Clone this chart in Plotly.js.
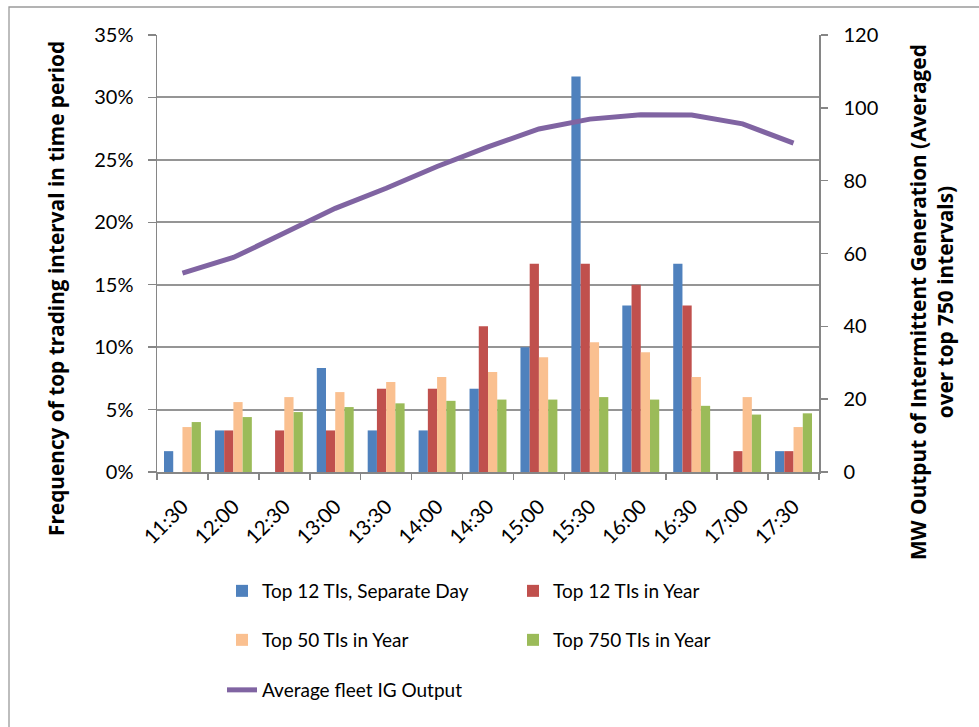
<!DOCTYPE html>
<html>
<head>
<meta charset="utf-8">
<script src="https://cdn.plot.ly/plotly-3.0.1.min.js"></script>
<style>html,body{margin:0;padding:0;background:#fff;}#chart{width:979px;height:727px;}</style>
</head>
<body>
<div id="chart"></div>
<script>
var categories = ["11:30","12:00","12:30","13:00","13:30","14:00","14:30","15:00","15:30","16:00","16:30","17:00","17:30"];
var top12Separate = [0.0167,0.0333,0,0.0833,0.0333,0.0333,0.0667,0.10,0.3167,0.1333,0.1667,0,0.0167];
var top12Year = [0,0.0333,0.0333,0.0333,0.0667,0.0667,0.1167,0.1667,0.1667,0.15,0.1333,0.0167,0.0167];
var top50Year = [0.036,0.056,0.060,0.064,0.072,0.076,0.080,0.092,0.104,0.096,0.076,0.060,0.036];
var top750Year = [0.040,0.044,0.048,0.052,0.055,0.057,0.058,0.058,0.060,0.058,0.053,0.046,0.047];
var fleetOutput = [54.6,58.9,65.6,72.4,77.9,83.9,89.3,94.2,96.9,98.1,98.0,95.6,90.3];
var seriesNames = ["Top 12 TIs, Separate Day","Top 12 TIs in Year","Top 50 TIs in Year","Top 750 TIs in Year","Average fleet IG Output"];
var colors = ["#4F81BD","#C0504D","#FAC090","#9BBB59","#8064A2"];

var FONT = "Lato, 'Open Sans', sans-serif";
var TFONT = "'Open Sans', Lato, sans-serif";
var barSeries = [top12Separate, top12Year, top50Year, top750Year];
var legendIds = ["legend","legend2","legend3","legend4","legend5"];
var traces = barSeries.map(function(vals, i){
  return {type:"bar", x:categories, y:vals, name:seriesNames[i], yaxis:"y",
    marker:{color:colors[i], line:{width:0}}, legend:legendIds[i], hoverinfo:"skip"};
});
traces.push({type:"scatter", mode:"lines", x:categories, y:fleetOutput, name:seriesNames[4], yaxis:"y2",
  line:{color:colors[4], width:5}, legend:legendIds[4], hoverinfo:"skip"});

var L = 157, R = 819, T = 35, B = 472;
var W = 979, H = 727;
function px2x(px){ return (px - L) / (R - L); }
function py2y(py){ return (B - py) / (B - T); }

function leg(xpx, ypx){
  return {x:px2x(xpx), y:py2y(ypx), xref:"paper", yref:"paper", xanchor:"left", yanchor:"middle",
    orientation:"h", bgcolor:"rgba(0,0,0,0)", borderwidth:0,
    font:{family:FONT, size:19, color:"#000"}};
}

var axisGray = "#868686";
var layout = {
  width:W, height:H,
  margin:{l:L, r:W-R, t:T, b:H-B, autoexpand:false},
  paper_bgcolor:"#fff", plot_bgcolor:"#fff",
  font:{family:FONT, size:20, color:"#000"},
  barmode:"group", bargap:0.275, bargroupgap:0,
  xaxis:{type:"category", tickson:"boundaries", ticks:"outside", ticklen:6, tickwidth:1.5, tickcolor:axisGray,
    showline:true, linecolor:axisGray, linewidth:1.5, showgrid:false, tickangle:-45,
    tickfont:{family:FONT, size:20.5, color:"#000"}, ticklabelstandoff:13, fixedrange:true},
  yaxis:{range:[0,0.35], dtick:0.05, tickformat:".0%", ticks:"outside", ticklen:8, tickwidth:1.5, tickcolor:axisGray,
    showline:true, linecolor:axisGray, linewidth:1.5, showgrid:true, gridcolor:"#959595", gridwidth:2,
    zeroline:false, tickfont:{family:FONT, size:20, color:"#000"}, ticklabelstandoff:10},
  yaxis2:{range:[0,120], dtick:20, overlaying:"y", side:"right", ticks:"outside", ticklen:7, tickwidth:1.5, tickcolor:axisGray,
    showline:true, linecolor:axisGray, linewidth:1.5, showgrid:false, zeroline:false,
    tickfont:{family:FONT, size:20, color:"#000"}, ticklabelstandoff:12},
  legend:leg(222,591), legend2:leg(513,591), legend3:leg(222,640), legend4:leg(513,640), legend5:leg(222,690),
  annotations:[
    {text:"<b>Frequency of top trading interval in time period</b>", textangle:-90, xref:"paper", yref:"paper",
      x:px2x(56), y:py2y(289), xanchor:"center", yanchor:"middle", showarrow:false,
      font:{family:TFONT, size:20.8, color:"#000"}},
    {text:"<b>MW Output of Intermittent Generation (Averaged<br>over top 750 intervals)</b>", textangle:-90, xref:"paper", yref:"paper",
      x:px2x(932), y:py2y(302), xanchor:"center", yanchor:"middle", showarrow:false, align:"center",
      font:{family:TFONT, size:20.8, color:"#000"}}
  ],
  shapes:[
    {type:"rect", xref:"paper", yref:"paper", x0:px2x(9), x1:px2x(1100), y0:py2y(900), y1:py2y(7),
      line:{color:"#9a9a9a", width:1.3}, fillcolor:"rgba(0,0,0,0)", layer:"below"}
  ],
  showlegend:true
};

Plotly.newPlot("chart", traces, layout, {displayModeBar:false, staticPlot:true});
</script>
</body>
</html>
